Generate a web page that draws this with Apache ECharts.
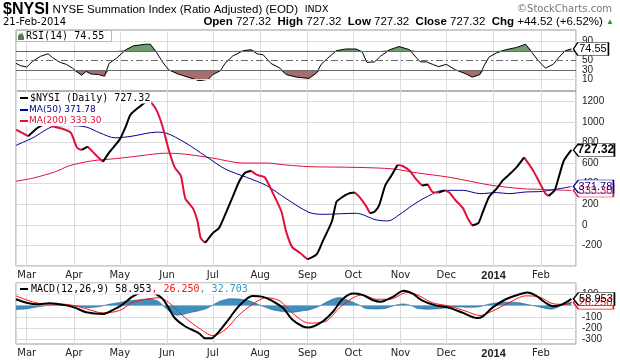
<!DOCTYPE html>
<html><head><meta charset="utf-8">
<script src="https://cdn.jsdelivr.net/npm/echarts@6/dist/echarts.min.js"></script>
<style>html,body{margin:0;padding:0;background:#fff}#c{width:620px;height:360px}</style>
</head><body><div id="c"></div><script>
// ---------- data ----------
const monthLabels = ['Jan','Feb','Mar','Apr','May','Jun','Jul','Aug','Sep','Oct','Nov','Dec'];
const mainTicks = [-200,0,200,400,600,800,1000,1200];
const rsiTicks = [10,30,50,70,90];
const macdTicks = [-300,-200,-100,0,100];

const nysiDates = ['2013-02-22','2013-03-02','2013-03-08','2013-03-14','2013-03-18','2013-03-25','2013-03-30','2013-04-03','2013-04-06','2013-04-10','2013-04-17','2013-04-20','2013-04-24','2013-05-01','2013-05-05','2013-05-08','2013-05-14','2013-05-20','2013-05-25','2013-05-29','2013-06-02','2013-06-06','2013-06-10','2013-06-13','2013-06-18','2013-06-21','2013-06-23','2013-06-26','2013-07-01','2013-07-05','2013-07-09','2013-07-14','2013-07-18','2013-07-22','2013-07-26','2013-07-30','2013-08-04','2013-08-09','2013-08-15','2013-08-18','2013-08-22','2013-08-27','2013-09-01','2013-09-07','2013-09-11','2013-09-17','2013-09-20','2013-09-24','2013-09-28','2013-10-02','2013-10-05','2013-10-09','2013-10-12','2013-10-15','2013-10-18','2013-10-22','2013-10-26','2013-10-30','2013-11-02','2013-11-07','2013-11-11','2013-11-15','2013-11-19','2013-11-22','2013-11-26','2013-11-30','2013-12-03','2013-12-07','2013-12-12','2013-12-15','2013-12-18','2013-12-22','2013-12-25','2013-12-29','2014-01-03','2014-01-07','2014-01-11','2014-01-16','2014-01-21','2014-01-27','2014-01-31','2014-02-04','2014-02-06','2014-02-10','2014-02-13','2014-02-16','2014-02-21'];
const nysiVals = [925,861,940,990,957,931,893,749,727,759,654,612,702,830,957,1069,1148,1218,1117,957,734,558,478,255,160,32,-127,-175,-80,-32,96,271,414,504,526,485,462,319,127,-64,-217,-271,-335,-287,-160,32,223,271,303,313,271,191,112,127,191,383,478,581,574,526,447,383,392,319,313,335,313,239,160,64,-6,16,127,271,351,431,485,558,655,526,414,303,281,335,478,622,727.32];

const ma50Dates = ['2013-02-22','2013-03-05','2013-03-19','2013-03-29','2013-04-09','2013-04-18','2013-04-28','2013-05-09','2013-05-25','2013-05-31','2013-06-13','2013-06-26','2013-07-09','2013-07-23','2013-08-05','2013-08-18','2013-09-02','2013-09-11','2013-10-03','2013-10-16','2013-10-24','2013-10-31','2013-11-09','2013-11-18','2013-11-29','2013-12-12','2013-12-23','2014-01-03','2014-01-11','2014-01-22','2014-02-02','2014-02-21'];
const ma50Vals = [772,845,957,964,950,893,845,861,900,893,797,670,543,462,383,255,121,102,112,48,38,96,191,271,335,335,303,313,303,319,325,371.78];

const ma200Dates = ['2013-02-22','2013-03-05','2013-03-20','2013-03-29','2013-04-13','2013-04-29','2013-05-14','2013-05-31','2013-06-13','2013-07-01','2013-07-21','2013-08-05','2013-08-18','2013-09-02','2013-10-03','2013-10-27','2013-11-12','2013-12-03','2013-12-31','2014-01-20','2014-02-02','2014-02-21'];
const ma200Vals = [424,453,517,574,622,644,670,696,686,648,600,600,581,565,558,543,504,462,383,351,344,333.30];

const rsiDates = ['2013-02-22','2013-02-25','2013-03-01','2013-03-05','2013-03-10','2013-03-15','2013-03-18','2013-03-23','2013-03-27','2013-03-31','2013-04-06','2013-04-09','2013-04-12','2013-04-17','2013-04-21','2013-04-24','2013-04-29','2013-05-05','2013-05-10','2013-05-18','2013-05-21','2013-05-25','2013-05-29','2013-06-02','2013-06-08','2013-06-22','2013-06-28','2013-07-01','2013-07-06','2013-07-09','2013-07-14','2013-07-21','2013-07-26','2013-07-30','2013-08-03','2013-08-08','2013-08-14','2013-08-18','2013-08-25','2013-09-02','2013-09-07','2013-09-10','2013-09-14','2013-09-20','2013-09-26','2013-10-03','2013-10-07','2013-10-10','2013-10-15','2013-10-19','2013-10-25','2013-10-31','2013-11-07','2013-11-11','2013-11-14','2013-11-18','2013-11-22','2013-11-26','2013-12-01','2013-12-07','2013-12-14','2013-12-18','2013-12-23','2013-12-26','2013-12-29','2014-01-03','2014-01-09','2014-01-16','2014-01-22','2014-01-26','2014-01-30','2014-02-04','2014-02-09','2014-02-13','2014-02-17','2014-02-21'];
const rsiVals = [44,39,36,48.6,58.8,64.3,56,45.9,41.8,33.7,18.6,26.7,21.4,20,16.6,43.9,55.3,73,81.2,84.7,84.7,67.6,47.1,30.2,21.4,7,9.8,20,28.2,43.9,59.4,71,73,64.3,62.2,43.9,33.7,20,14.5,11.8,23.5,41.8,54.1,71,74.5,74.5,67.6,45.9,47.1,59.4,73,79.8,73,57.3,47.1,47.1,41.8,36.9,41.8,30.2,21.4,14.5,20,40.4,57.3,66.3,73,77.8,84.7,67.6,50.6,33.7,41.8,57.3,71,74.55];

const macdDates = ['2013-02-22','2013-03-01','2013-03-08','2013-03-16','2013-03-27','2013-04-02','2013-04-09','2013-04-20','2013-04-26','2013-05-03','2013-05-09','2013-05-15','2013-05-21','2013-05-25','2013-05-29','2013-06-02','2013-06-06','2013-06-13','2013-06-22','2013-06-26','2013-06-30','2013-07-05','2013-07-12','2013-07-18','2013-07-27','2013-08-03','2013-08-09','2013-08-16','2013-08-22','2013-08-29','2013-09-02','2013-09-11','2013-09-18','2013-09-24','2013-10-01','2013-10-07','2013-10-14','2013-10-19','2013-10-27','2013-11-03','2013-11-09','2013-11-15','2013-11-24','2013-12-03','2013-12-12','2013-12-21','2013-12-25','2013-12-31','2014-01-09','2014-01-18','2014-01-23','2014-01-29','2014-02-04','2014-02-09','2014-02-15','2014-02-21'];
const macdVals = [56,25,11,20,2,-20,-59,-74,-43,11,77,115,122,100,62,-20,-110,-185,-245,-290,-290,-230,-110,-5,86,77,41,-20,-124,-185,-194,-140,-50,56,106,95,47,34,77,131,106,47,2,-20,-65,-110,-95,-20,56,101,115,86,25,-5,11,58.953];

const sigDates = ['2013-02-22','2013-03-03','2013-03-11','2013-03-27','2013-04-07','2013-04-20','2013-05-01','2013-05-09','2013-05-15','2013-05-21','2013-05-27','2013-06-02','2013-06-06','2013-06-13','2013-06-22','2013-07-01','2013-07-09','2013-07-18','2013-07-27','2013-08-05','2013-08-14','2013-08-22','2013-09-02','2013-09-13','2013-09-22','2013-10-01','2013-10-07','2013-10-16','2013-10-25','2013-11-05','2013-11-11','2013-11-22','2013-12-03','2013-12-14','2013-12-23','2013-12-31','2014-01-11','2014-01-22','2014-01-31','2014-02-09','2014-02-17','2014-02-21'];
const sigVals = [86,41,16,11,-20,-65,-43,25,48,62,70,28,-20,-110,-200,-266,-215,-85,11,70,41,-65,-155,-140,-20,70,95,56,56,115,101,25,-5,-50,-88,-50,25,86,77,16,11,26.25];

const histDates = ['2013-02-22','2013-02-28','2013-03-05','2013-03-10','2013-03-16','2013-03-23','2013-03-29','2013-04-05','2013-04-11','2013-04-18','2013-04-24','2013-05-01','2013-05-07','2013-05-14','2013-05-20','2013-05-26','2013-05-29','2013-06-02','2013-06-07','2013-06-11','2013-06-16','2013-06-22','2013-06-27','2013-07-01','2013-07-05','2013-07-12','2013-07-18','2013-07-25','2013-07-30','2013-08-04','2013-08-10','2013-08-17','2013-08-22','2013-08-29','2013-09-02','2013-09-08','2013-09-12','2013-09-18','2013-09-22','2013-09-27','2013-09-30','2013-10-05','2013-10-09','2013-10-16','2013-10-22','2013-10-29','2013-11-03','2013-11-08','2013-11-12','2013-11-19','2013-11-26','2013-12-03','2013-12-10','2013-12-16','2013-12-23','2013-12-28','2014-01-02','2014-01-07','2014-01-13','2014-01-18','2014-01-24','2014-01-29','2014-02-04','2014-02-08','2014-02-12','2014-02-16','2014-02-21'];
const histVals = [-35,-30,-18,-8,3,6,3,-10,-18,-8,12,28,42,52,60,40,5,-45,-85,-80,-62,-45,-25,5,35,60,58,42,15,-12,-40,-55,-60,-45,-38,-10,20,60,72,50,35,5,-25,-30,-25,5,15,0,-25,-32,-28,-15,-12,-15,-10,10,22,30,30,25,8,-5,-25,-32,-15,12,32.703];

// ---------- helpers ----------
const zip = (ds, vs) => ds.map((d, i) => [d, vs[i]]);
function dirSegments(ds, vs, up) {
  const out = []; let last = -1;
  for (let i = 0; i < vs.length - 1; i++) {
    const isUp = vs[i + 1] >= vs[i];
    if (isUp !== up) continue;
    if (last !== i) { if (out.length) out.push([ds[i], '-']); out.push([ds[i], vs[i]]); }
    out.push([ds[i + 1], vs[i + 1]]); last = i + 1;
  }
  return out;
}
const last = a => a[a.length - 1];
const X_MIN = new Date(2013, 1, 22).getTime();
const X_MAX = new Date(2014, 1, 24).getTime();
const GRID = '#dcdcdc';
const T = 'rgba(0,0,0,0)';
const LBL = {fontFamily: '"Liberation Sans", Arial', fontSize: 10, color: '#222', margin: 6};
const MONO = '"DejaVu Sans Mono", monospace';

function xAxis(gi, show) {
  return {
    type: 'time', gridIndex: gi, min: X_MIN, max: X_MAX, splitNumber: 12,
    minInterval: 28 * 864e5, maxInterval: 31 * 864e5,
    axisLine: {show: false}, axisTick: {show: false},
    splitLine: {show: true, lineStyle: {color: GRID, width: 1}},
    axisLabel: {
      show: show, margin: 4, fontFamily: '"DejaVu Sans"', fontSize: 10, color: '#222',
      formatter: function (v) {
        const d = new Date(v);
        if (d.getDate() !== 1) return '';
        return d.getMonth() === 0 ? '{y|' + d.getFullYear() + '}' : monthLabels[d.getMonth()];
      },
      rich: {y: {fontFamily: '"Liberation Sans"', fontWeight: 'bold', fontSize: 11, color: '#222'}}
    }
  };
}
function tag(coord, text, border, txtColor, bold, w) {
  return {
    symbol: 'path://M0,6 L5,0 L40,0 L40,12 L5,12 Z', symbolSize: [w, 13], symbolOffset: [w / 2 + 2, 0],
    silent: true, animation: false,
    itemStyle: {color: '#fff', borderColor: border, borderWidth: 1},
    label: {show: true, position: 'inside', offset: [2, 0], formatter: text, color: txtColor,
      fontFamily: '"Liberation Sans", Arial', fontSize: bold ? 12 : 11, fontWeight: bold ? 'bold' : 'normal'},
    data: [{coord: coord}]
  };
}
const noSym = {showSymbol: false, symbol: 'none', animation: false};

const option = {
  animation: false,
  grid: [
    {left: 16, right: 44, top: 30, height: 61, show: true, borderColor: '#999', borderWidth: 1},
    {left: 16, right: 44, top: 91, height: 175, show: true, borderColor: '#999', borderWidth: 1},
    {left: 16, right: 44, top: 283, height: 61, show: true, borderColor: '#999', borderWidth: 1}
  ],
  xAxis: [xAxis(0, false), xAxis(1, true), xAxis(2, true)],
  yAxis: [
    {gridIndex: 0, type: 'value', position: 'right', min: -15, max: 115, interval: 5,
      splitLine: {show: false}, axisLine: {show: false}, axisTick: {show: false},
      axisLabel: Object.assign({}, LBL, {formatter: v => rsiTicks.includes(v) ? String(v) : ''})},
    {gridIndex: 1, type: 'value', position: 'right', min: -400, max: 1300, interval: 100,
      splitLine: {show: true, lineStyle: {color: [GRID, T]}}, axisLine: {show: false}, axisTick: {show: false},
      axisLabel: Object.assign({}, LBL, {formatter: v => mainTicks.includes(v) ? String(v) : ''})},
    {gridIndex: 2, type: 'value', position: 'right', min: -340, max: 200, interval: 10,
      splitLine: {show: true, lineStyle: {color: [T, T, T, T, GRID, T, T, T, T, T]}}, axisLine: {show: false}, axisTick: {show: false},
      axisLabel: Object.assign({}, LBL, {formatter: v => macdTicks.includes(v) ? String(v) : ''})}
  ],
  series: [
    // RSI fills
    Object.assign({type: 'line', xAxisIndex: 0, yAxisIndex: 0, stack: 'hi', lineStyle: {opacity: 0},
      data: zip(rsiDates, rsiDates.map(() => 70))}, noSym),
    Object.assign({type: 'line', xAxisIndex: 0, yAxisIndex: 0, stack: 'hi', lineStyle: {opacity: 0},
      areaStyle: {color: '#6f9d6f', opacity: 1}, data: zip(rsiDates, rsiVals.map(v => Math.max(v, 70) - 70))}, noSym),
    Object.assign({type: 'line', xAxisIndex: 0, yAxisIndex: 0, stack: 'lo', lineStyle: {opacity: 0},
      data: zip(rsiDates, rsiVals.map(v => Math.min(v, 30)))}, noSym),
    Object.assign({type: 'line', xAxisIndex: 0, yAxisIndex: 0, stack: 'lo', lineStyle: {opacity: 0},
      areaStyle: {color: '#a96e6c', opacity: 1}, data: zip(rsiDates, rsiVals.map(v => 30 - Math.min(v, 30)))}, noSym),
    // RSI line
    Object.assign({type: 'line', xAxisIndex: 0, yAxisIndex: 0, z: 4, lineStyle: {color: '#000', width: 1},
      data: zip(rsiDates, rsiVals),
      markLine: {silent: true, symbol: 'none', animation: false, label: {show: false},
        data: [
          {yAxis: 10, lineStyle: {color: GRID, width: 1, type: 'solid'}},
          {yAxis: 90, lineStyle: {color: GRID, width: 1, type: 'solid'}},
          {yAxis: 30, lineStyle: {color: '#6a6a6a', width: 1, type: 'solid'}},
          {yAxis: 70, lineStyle: {color: '#6a6a6a', width: 1, type: 'solid'}},
          {yAxis: 50, lineStyle: {color: '#6a6a6a', width: 1, type: [7, 3, 2, 3]}}
        ]},
      markPoint: tag([last(rsiDates), last(rsiVals)], '74.55', '#000', '#000', false, 35)}, noSym),
    // main: MA200, MA50, price
    Object.assign({type: 'line', xAxisIndex: 1, yAxisIndex: 1, smooth: 0.3, lineStyle: {color: '#e0103c', width: 1},
      data: zip(ma200Dates, ma200Vals),
      markPoint: tag([last(ma200Dates), last(ma200Vals)], '333.30', '#e0103c', '#e0103c', false, 40)}, noSym),
    Object.assign({type: 'line', xAxisIndex: 1, yAxisIndex: 1, smooth: 0.3, lineStyle: {color: '#000090', width: 1},
      data: zip(ma50Dates, ma50Vals),
      markPoint: tag([last(ma50Dates), last(ma50Vals)], '371.78', '#000090', '#000090', false, 40)}, noSym),
    Object.assign({type: 'line', xAxisIndex: 1, yAxisIndex: 1, smooth: 0.2, connectNulls: false, lineStyle: {color: '#e0103c', width: 2},
      data: dirSegments(nysiDates, nysiVals, false)}, noSym),
    Object.assign({type: 'line', xAxisIndex: 1, yAxisIndex: 1, smooth: 0.2, connectNulls: false, lineStyle: {color: '#000', width: 2},
      data: dirSegments(nysiDates, nysiVals, true),
      markPoint: tag([last(nysiDates), last(nysiVals)], '727.32', '#000', '#000', true, 41)}, noSym),
    // MACD
    Object.assign({type: 'line', xAxisIndex: 2, yAxisIndex: 2, smooth: 0.2, lineStyle: {color: '#1f5f8b', width: 0.6},
      areaStyle: {color: '#3f8fbf', opacity: 1}, data: zip(histDates, histVals)}, noSym),
    Object.assign({type: 'line', xAxisIndex: 2, yAxisIndex: 2, smooth: 0.3, lineStyle: {color: '#ff1010', width: 1},
      data: zip(sigDates, sigVals),
      markPoint: tag([last(sigDates), last(sigVals)], '26.250', '#ff1010', '#ff1010', false, 40)}, noSym),
    Object.assign({type: 'line', xAxisIndex: 2, yAxisIndex: 2, smooth: 0.3, lineStyle: {color: '#000', width: 2},
      data: zip(macdDates, macdVals),
      markPoint: tag([last(macdDates), last(macdVals)], '58.953', '#000', '#000', false, 41)}, noSym)
  ],
  graphic: [
    {type: 'text', left: 3, top: 2, z: 100, style: {
      text: '{a|$NYSI} {b|NYSE Summation Index (Ratio Adjusted) (EOD)}  {c|INDX}',
      rich: {
        a: {fontFamily: '"Liberation Sans", Arial', fontWeight: 'bold', fontSize: 16, fill: '#000'},
        b: {fontFamily: '"Liberation Sans", Arial', fontSize: 11.5, fill: '#000'},
        c: {fontFamily: '"DejaVu Sans"', fontSize: 9.5, fill: '#000'}
      }}},
    {type: 'text', right: 8, top: 4, z: 100, style: {text: '\u00A9StockCharts.com', fontFamily: '"DejaVu Sans"', fontSize: 10, fill: '#777'}},
    {type: 'text', left: 3, top: 17, z: 100, style: {text: '21-Feb-2014', fontFamily: '"DejaVu Sans"', fontSize: 10, fill: '#000'}},
    {type: 'text', right: 6, top: 16, z: 100, style: {
      text: '{b|Open} 727.32  {b|High} 727.32  {b|Low} 727.32  {b|Close} 727.32  {b|Chg} +44.52 (+6.52%) {g|\u25B2}',
      fontFamily: '"Liberation Sans", Arial', fontSize: 11.5, fill: '#000',
      rich: {
        b: {fontFamily: '"Liberation Sans", Arial', fontWeight: 'bold', fontSize: 11.5, fill: '#000'},
        g: {fontSize: 8, fill: '#2a9d2a'}
      }}},
    // RSI legend
    {type: 'rect', z: 100, shape: {x: 16.5, y: 30.5, width: 95, height: 11}, style: {fill: '#fff', stroke: '#bbb', lineWidth: 1}},
    {type: 'polygon', z: 101, shape: {points: [[18, 40], [18, 36], [20, 33], [21, 35], [22, 32], [24, 37], [24, 40]]}, style: {fill: '#4e7f4e'}},
    {type: 'text', z: 101, x: 26, y: 36, style: {text: 'RSI(14) 74.55', fontFamily: MONO, fontSize: 10, fill: '#000', verticalAlign: 'middle'}},
    // main legend
    {type: 'text', z: 100, x: 18, y: 98, style: {text: '$NYSI (Daily) 727.32', fontFamily: MONO, fontSize: 10, fill: '#000', verticalAlign: 'middle', backgroundColor: '#fff', padding: [1, 1, 0, 12]}},
    {type: 'line', z: 101, shape: {x1: 20, y1: 98, x2: 28, y2: 98}, style: {stroke: '#000', lineWidth: 2}},
    {type: 'text', z: 100, x: 18, y: 110, style: {text: 'MA(50) 371.78', fontFamily: '"DejaVu Sans"', fontSize: 9, fill: '#000090', verticalAlign: 'middle', backgroundColor: '#fff', padding: [1, 1, 0, 11]}},
    {type: 'line', z: 101, shape: {x1: 20, y1: 110, x2: 28, y2: 110}, style: {stroke: '#000090', lineWidth: 2}},
    {type: 'text', z: 100, x: 18, y: 121, style: {text: 'MA(200) 333.30', fontFamily: '"DejaVu Sans"', fontSize: 9, fill: '#e0103c', verticalAlign: 'middle', backgroundColor: '#fff', padding: [1, 1, 0, 11]}},
    {type: 'line', z: 101, shape: {x1: 20, y1: 121, x2: 28, y2: 121}, style: {stroke: '#e0103c', lineWidth: 2}},
    // MACD legend
    {type: 'text', z: 100, x: 18, y: 289, style: {
      text: '{k|MACD(12,26,9) 58.953}{r|, 26.250}{u|, 32.703}', verticalAlign: 'middle', backgroundColor: '#fff', padding: [1, 1, 0, 13],
      fontFamily: MONO, fontSize: 10,
      rich: {k: {fontFamily: MONO, fontSize: 10, fill: '#000'}, r: {fontFamily: MONO, fontSize: 10, fill: '#ff1010'}, u: {fontFamily: MONO, fontSize: 10, fill: '#3399cc'}}}},
    {type: 'line', z: 101, shape: {x1: 20, y1: 289, x2: 28, y2: 289}, style: {stroke: '#000', lineWidth: 2}}
  ]
};
const chart = echarts.init(document.getElementById('c'));
chart.setOption(option);
</script></body></html>
